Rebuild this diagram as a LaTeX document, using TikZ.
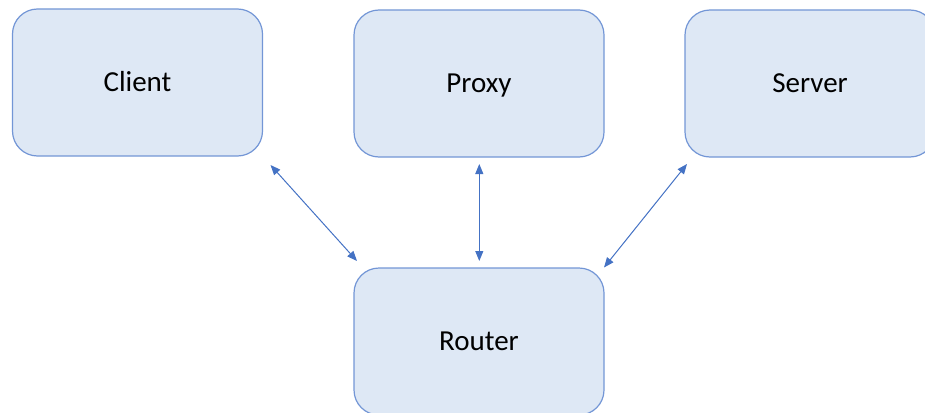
\documentclass[tikz,border=0pt]{standalone}
\usepackage{fontspec}
\setmainfont{Carlito}
\usetikzlibrary{arrows.meta}
\definecolor{boxfill}{HTML}{DEE8F5}
\definecolor{boxline}{HTML}{7396D6}
\definecolor{linkblue}{HTML}{4472C4}
\begin{document}
\begin{tikzpicture}[x=1pt,y=-1pt,
  unit/.style={draw=boxline, fill=boxfill, line width=1.2pt, rounded corners=25pt,
    minimum width=250pt, minimum height=147pt, inner sep=0pt,
    text height=20pt, text depth=3pt,
    font=\fontsize{29}{33}\selectfont, text=black},
  link/.style={draw=linkblue, line width=1pt,
    {Triangle[length=10pt,width=8pt]}-{Triangle[length=10pt,width=8pt]}}]
\useasboundingbox (0,0) rectangle (925,412);
\clip (0,0) rectangle (925,412);
% the four boxes
\node[unit] (client) at (137.5,82.5) {Client};
\node[unit] (proxy)  at (479,83.5)  {Proxy};
\node[unit] (server) at (810,83.5)  {Server};
\node[unit] (router) at (479,341.5) {Router};
% arrow end points, just clear of the boxes
\coordinate (c1) at (270.5,165);
\coordinate (c2) at (357,261);
\coordinate (p1) at (479.3,164);
\coordinate (p2) at (479.3,261);
\coordinate (s1) at (687,164);
\coordinate (s2) at (604,267.5);
% connections through the router
\draw[link] (c1) -- (c2);
\draw[link] (p1) -- (p2);
\draw[link] (s1) -- (s2);
\end{tikzpicture}
\end{document}
